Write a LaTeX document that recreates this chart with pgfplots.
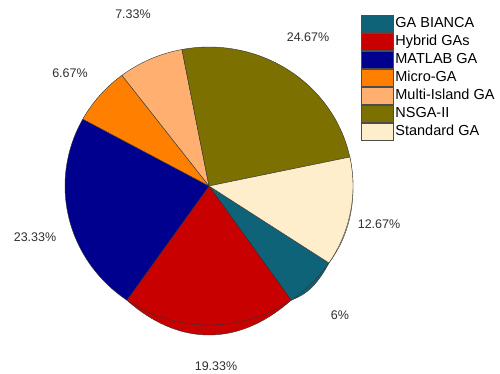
\documentclass[border=0pt]{standalone}
\usepackage{pgfplots}
\pgfplotsset{compat=1.18}
\usepackage{fontspec}
\setmainfont{Liberation Sans}
\definecolor{cBianca}{HTML}{0E6378}
\definecolor{cHybrid}{HTML}{C80000}
\definecolor{cMatlab}{HTML}{00008E}
\definecolor{cMicro}{HTML}{FF8000}
\definecolor{cMulti}{HTML}{FFB070}
\definecolor{cNsga}{HTML}{7B7000}
\definecolor{cStd}{HTML}{FFEECC}
\definecolor{lbl}{HTML}{303030}
\begin{document}
\begin{tikzpicture}
% shares in percent
\def\pBianca{6}
\def\pHybrid{19.33}
\def\pMatlab{23.33}
\def\pMicro{6.67}
\def\pMulti{7.33}
\def\pNsga{24.67}
\def\pStd{12.67}
\def\cx{209}\def\cy{186}\def\rx{144}\def\ry{139}
\pgfmathsetmacro\aA{-33.6}
\pgfmathsetmacro\aB{\aA-3.6*\pBianca}
\pgfmathsetmacro\aC{\aB-3.6*\pHybrid}
\pgfmathsetmacro\aD{\aC-3.6*\pMatlab}
\pgfmathsetmacro\aE{\aD-3.6*\pMicro}
\pgfmathsetmacro\aF{\aE-3.6*\pMulti}
\pgfmathsetmacro\aG{\aF-3.6*\pNsga}
\pgfmathsetmacro\aH{\aG-3.6*\pStd}
\begin{axis}[
  width=500pt, height=374pt, scale only axis,
  xmin=0, xmax=500, ymin=0, ymax=374, y dir=reverse,
  hide axis, clip=false,
  legend cell align=left,
  legend image code/.code={\draw[#1, draw=black!70, line width=0.4pt] (0pt,-8.5pt) rectangle (32pt,8.5pt);},
  legend style={at={(axis cs:361,15)}, anchor=north west, draw=none, fill=none,
    inner sep=0pt, outer sep=0pt, row sep=0.55pt,
    font=\fontsize{14.5}{15}\selectfont\color{black},
    nodes={text height=10.5pt, text depth=3pt, inner sep=2pt}},
]
% side bands (crescents) of the lower slices
\addplot[forget plot, fill=cHybrid, draw=black!80, line width=0.4pt, domain=\aC:\aB, samples=80, variable=\t]
  ({\cx+\rx*cos(\t)},{\cy-\ry*sin(\t)+10*sin(180*(\t-\aC)/(\aB-\aC))}) -- (axis cs:\cx,\cy) -- cycle;
\addplot[forget plot, fill=cBianca, draw=black!80, line width=0.4pt, domain=\aB:\aA, samples=40, variable=\t]
  ({\cx+\rx*cos(\t)},{\cy-\ry*sin(\t)+4*sin(180*(\t-\aB)/(\aA-\aB))}) -- (axis cs:\cx,\cy) -- cycle;
\addplot[forget plot, fill=cStd, draw=black!80, line width=0.4pt, domain=\aH:\aG, samples=40, variable=\t]
  ({\cx+\rx*cos(\t)},{\cy-\ry*sin(\t)+2.5*sin(180*(\t-\aH)/(\aG-\aH))}) -- (axis cs:\cx,\cy) -- cycle;
% top faces
\addplot[fill=cBianca, draw=black!80, line width=0.4pt, domain=\aB:\aA, samples=40, variable=\t]
  ({\cx+\rx*cos(\t)},{\cy-\ry*sin(\t)}) -- (axis cs:\cx,\cy) -- cycle;
\addlegendentry{GA BIANCA}
\addplot[fill=cHybrid, draw=black!80, line width=0.4pt, domain=\aC:\aB, samples=80, variable=\t]
  ({\cx+\rx*cos(\t)},{\cy-\ry*sin(\t)}) -- (axis cs:\cx,\cy) -- cycle;
\addlegendentry{Hybrid GAs}
\addplot[fill=cMatlab, draw=black!80, line width=0.4pt, domain=\aD:\aC, samples=80, variable=\t]
  ({\cx+\rx*cos(\t)},{\cy-\ry*sin(\t)}) -- (axis cs:\cx,\cy) -- cycle;
\addlegendentry{MATLAB GA}
\addplot[fill=cMicro, draw=black!80, line width=0.4pt, domain=\aE:\aD, samples=40, variable=\t]
  ({\cx+\rx*cos(\t)},{\cy-\ry*sin(\t)}) -- (axis cs:\cx,\cy) -- cycle;
\addlegendentry{Micro-GA}
\addplot[fill=cMulti, draw=black!80, line width=0.4pt, domain=\aF:\aE, samples=40, variable=\t]
  ({\cx+\rx*cos(\t)},{\cy-\ry*sin(\t)}) -- (axis cs:\cx,\cy) -- cycle;
\addlegendentry{Multi-Island GA}
\addplot[fill=cNsga, draw=black!80, line width=0.4pt, domain=\aG:\aF, samples=80, variable=\t]
  ({\cx+\rx*cos(\t)},{\cy-\ry*sin(\t)}) -- (axis cs:\cx,\cy) -- cycle;
\addlegendentry{NSGA-II}
\addplot[fill=cStd, draw=black!80, line width=0.4pt, domain=\aH:\aG, samples=60, variable=\t]
  ({\cx+\rx*cos(\t)},{\cy-\ry*sin(\t)}) -- (axis cs:\cx,\cy) -- cycle;
\addlegendentry{Standard GA}
% percentage labels
\begin{scope}[every node/.style={font=\fontsize{12.5}{14}\selectfont, text=lbl, inner sep=0pt}]
\node at (axis cs:308,37) {24.67\%};
\node at (axis cs:133,14) {7.33\%};
\node at (axis cs:70,73) {6.67\%};
\node at (axis cs:35,237) {23.33\%};
\node at (axis cs:216,366) {19.33\%};
\node at (axis cs:340,315) {6\%};
\node at (axis cs:379,224) {12.67\%};
\end{scope}
\end{axis}
\pgfresetboundingbox
\path (current axis.south west) rectangle (current axis.north east);
\end{tikzpicture}
\end{document}
